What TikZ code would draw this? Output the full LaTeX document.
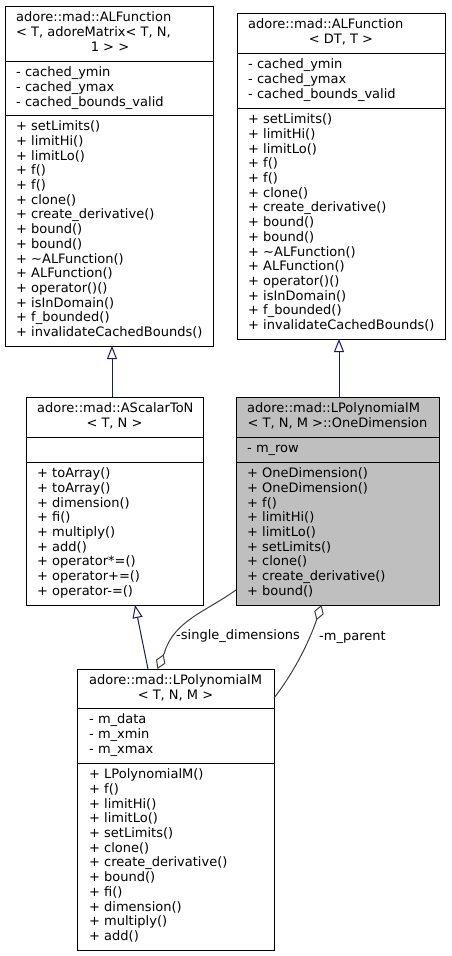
\documentclass[tikz,border=0pt]{standalone}
\usepackage{fontspec}
\setmainfont{DejaVu Sans}
\usetikzlibrary{arrows.meta}
\definecolor{inhcol}{HTML}{191970}
\definecolor{compcol}{HTML}{404040}
\definecolor{grayfill}{HTML}{BFBFBF}
\newcommand\umlfnt{\fontsize{13}{14.7}\selectfont}
\newcommand\umlrows[4]{%
  \foreach \t [count=\i] in {#4} {
    \node[txt] (#1\i) at (#2, {#3+14.7*(\i-1)}) {\t};
  }}
\begin{document}
\begin{tikzpicture}[x=1pt,y=-1pt,
  box/.style={draw=black, line width=1pt, anchor=north west, inner sep=0pt, outer sep=0pt, fill=white},
  sep/.style={draw=black, line width=1pt},
  txt/.style={anchor=base west, inner sep=0pt, font=\umlfnt},
  ttl/.style={anchor=base, inner sep=0pt, font=\umlfnt},
  inhe/.style={draw=inhcol, line width=1pt, -{Triangle[open, length=13pt, width=10pt]}},
  comp/.style={draw=compcol, line width=1pt, {Diamond[open, length=16pt, width=10pt]}-},
  lbl/.style={anchor=base west, inner sep=0pt, font=\umlfnt}]
\useasboundingbox (0,0) rectangle (451,956);
\fill[white] (0,0) rectangle (451,956);

% Box A
\node[box, minimum width=208pt, minimum height=340pt] (A) at (5,6) {};
\draw[sep] (5,61) -- (213,61);
\draw[sep] (5,115) -- (213,115);
\node[txt] (At1) at (16,21.7) {adore::mad::ALFunction};
\node[txt] (At2) at (16,36.4) {< T, adoreMatrix< T, N,};
\node[ttl] (At3) at (110,51.1) {1 > >};
\umlrows{Aa}{16}{76.7}{{- cached\_ymin},{- cached\_ymax},{- cached\_bounds\_valid}}
\umlrows{Am}{16}{130.7}{{+ setLimits()},{+ limitHi()},{+ limitLo()},{+ f()},{+ f()},{+ clone()},{+ create\_derivative()},{+ bound()},{+ bound()},{+ \textasciitilde ALFunction()},{+ ALFunction()},{+ operator()()},{+ isInDomain()},{+ f\_bounded()},{+ invalidateCachedBounds()}}

% Box B
\node[box, minimum width=208pt, minimum height=326pt] (B) at (237,13) {};
\draw[sep] (237,53) -- (445,53);
\draw[sep] (237,108) -- (445,108);
\node[txt] (Bt1) at (248,28.7) {adore::mad::ALFunction};
\node[ttl] (Bt2) at (341,43.4) {< DT, T >};
\umlrows{Ba}{248}{68.7}{{- cached\_ymin},{- cached\_ymax},{- cached\_bounds\_valid}}
\umlrows{Bm}{248}{123.7}{{+ setLimits()},{+ limitHi()},{+ limitLo()},{+ f()},{+ f()},{+ clone()},{+ create\_derivative()},{+ bound()},{+ bound()},{+ \textasciitilde ALFunction()},{+ ALFunction()},{+ operator()()},{+ isInDomain()},{+ f\_bounded()},{+ invalidateCachedBounds()}}

% Box C
\node[box, minimum width=177pt, minimum height=208pt] (C) at (26,397) {};
\draw[sep] (26,437) -- (203,437);
\draw[sep] (26,462) -- (203,462);
\node[txt] (Ct1) at (37,412.7) {adore::mad::AScalarToN};
\node[ttl] (Ct2) at (114.5,427.4) {< T, N >};
\umlrows{Cm}{37}{477.7}{{+ toArray()},{+ toArray()},{+ dimension()},{+ fi()},{+ multiply()},{+ add()},{+ operator*=()},{+ operator+=()},{+ operator-=()}}

% Box D
\node[box, fill=grayfill, minimum width=203pt, minimum height=208pt] (D) at (236,397) {};
\draw[sep] (236,437) -- (439,437);
\draw[sep] (236,462) -- (439,462);
\node[txt] (Dt1) at (247,412.7) {adore::mad::LPolynomialM};
\node[ttl] (Dt2) at (337.5,427.4) {< T, N, M >::OneDimension};
\umlrows{Da}{247}{452.7}{{- m\_row}}
\umlrows{Dm}{247}{477.7}{{+ OneDimension()},{+ OneDimension()},{+ f()},{+ limitHi()},{+ limitLo()},{+ setLimits()},{+ clone()},{+ create\_derivative()},{+ bound()}}

% Box E
\node[box, minimum width=197pt, minimum height=281pt] (E) at (77,669) {};
\draw[sep] (77,708) -- (274,708);
\draw[sep] (77,763) -- (274,763);
\node[txt] (Et1) at (89,684.7) {adore::mad::LPolynomialM};
\node[ttl] (Et2) at (175.5,699.4) {< T, N, M >};
\umlrows{Ea}{89}{723.7}{{- m\_data},{- m\_xmin},{- m\_xmax}}
\umlrows{Em}{89}{778.7}{{+ LPolynomialM()},{+ f()},{+ limitHi()},{+ limitLo()},{+ setLimits()},{+ clone()},{+ create\_derivative()},{+ bound()},{+ fi()},{+ dimension()},{+ multiply()},{+ add()}}

% inheritance
\draw[inhe] ([xshift=86pt]C.north west) -- ([xshift=107pt]A.south west);
\draw[inhe] ([xshift=103pt]D.north west) -- ([xshift=102pt]B.south west);
\draw[inhe] ([xshift=71pt]E.north west) -- ([xshift=109pt]C.south west);

% composition
\draw[comp] ([xshift=80.5pt]E.north west) -- (164.5,652.5) .. controls (174,621) and (205,612) .. ([yshift=-89pt]D.west);
\draw[comp] ([xshift=85.5pt]D.south west) -- (316.5,620) .. controls (308,645) and (292,675) .. ([yshift=-29pt]E.north east);
\node[lbl] (lsd) at (176,639) {-single\_dimensions};
\node[lbl] (lmp) at (319,640) {-m\_parent};
\end{tikzpicture}
\end{document}
